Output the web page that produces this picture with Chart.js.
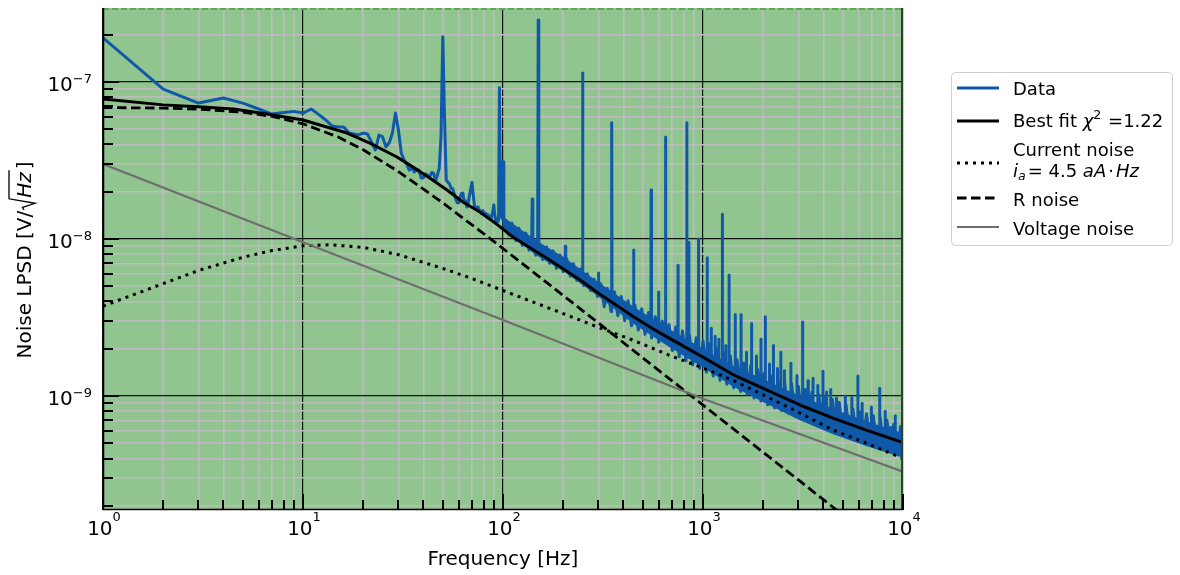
<!DOCTYPE html>
<html>
<head>
<meta charset="utf-8">
<script src="https://cdn.jsdelivr.net/npm/chart.js@4.4.0/dist/chart.umd.min.js"></script>
<style>
  html, body { margin: 0; padding: 0; background: #fff; }
</style>
</head>
<body>
<canvas id="lpsdChart" width="1180" height="575"></canvas>
<script>
// measured spectrum, 1 Hz bins at low frequency (values in nV/sqrt(Hz))
const lowBinsHz = [
  1, 2, 3, 4, 5, 6, 7, 8, 9, 10,
  11, 12, 13, 14, 15, 16, 17, 18, 19, 20,
  21, 22, 23, 24, 25, 26, 27, 28, 29, 30,
  31, 32, 33, 34, 35, 36, 37, 38, 39, 40,
  41, 42, 43, 44, 45, 46, 47, 48, 49, 50,
  51, 52, 53, 54, 55, 56, 57, 58, 59, 60,
  61, 62, 63, 64, 65, 66, 67, 68, 69, 70,
  71, 72, 73, 74, 75, 76, 77, 78, 79, 80,
  81, 82, 83, 84, 85, 86, 87, 88, 89, 90,
  91, 92, 93, 94, 95, 96, 97, 98, 99, 100,
  101, 102
];
const lowBinsNV = [
  191, 90, 73.4, 79, 73.4, 67.3, 62.5, 64, 65, 63.4,
  67.3, 62, 57.3, 52.4, 51.7, 51.7, 47.3, 46.7, 46, 47.3,
  46.7, 41.5, 36.9, 46, 44.7, 38.6, 41, 47.3, 63.5, 49.5,
  35.3, 31.9, 30, 27.5, 28.3, 26.7, 27.5, 27.5, 24.5, 24.5,
  26, 25.5, 25, 26.5, 26.3, 23.5, 25.5, 28.3, 45, 194,
  60, 23.8, 23, 22.5, 21, 21, 19.5, 18, 17, 17,
  18.5, 19.5, 19.6, 17, 17.5, 16, 16.8, 19, 21, 23,
  19, 16.3, 15.8, 15.8, 16, 15.3, 15, 14.5, 15.2, 14.9,
  14.2, 14.6, 13.8, 14.3, 13.5, 14, 13.3, 14.2, 15, 16.5,
  14, 13, 13.5, 12.8, 13.2, 92, 16, 14, 13.5, 31,
  12.5, 11.5
];

// 100 Hz - 1 kHz: noise band + mains harmonics (nV/sqrt(Hz))
const bandLowHz = [
  103, 107, 111, 116, 120, 125, 130, 135, 139, 140,
  141, 146, 149, 150, 151, 152, 158, 165, 171, 178,
  185, 193, 200, 204, 205, 206, 208, 217, 225, 234,
  244, 249, 250, 251, 253, 264, 274, 285, 297, 299,
  300, 301, 308, 321, 333, 347, 349, 350, 351, 361,
  375, 390, 406, 422, 439, 449, 450, 451, 456, 475,
  494, 513, 534, 549, 550, 551, 555, 577, 599, 600,
  601, 625, 649, 650, 651, 676, 703, 731, 749, 750,
  751, 760, 790, 822, 829, 830, 831, 849, 850, 851,
  855, 889, 925, 949, 950, 951, 962
];
const bandLowNV = [
  13.2, 10.6, 12.6, 9.8, 11.7, 9.1, 10.9, 8.5, 9.0, 18,
  8.8, 7.9, 8.6, 248, 8.2, 9.4, 7.4, 8.9, 7.0, 8.4,
  6.5, 7.9, 6.2, 6.5, 9.0, 6.4, 7.5, 5.8, 6.95, 5.45,
  6.45, 5.5, 114, 5.5, 5.05, 6.0, 4.7, 5.55, 4.3, 4.6,
  6.07, 4.6, 5.2, 3.7, 4.85, 3.45, 4.0, 55, 4.0, 4.6,
  3.25, 4.3, 3.02, 4.05, 2.8, 3.2, 8.5, 3.2, 3.8, 2.63,
  3.6, 2.47, 3.4, 2.8, 20.5, 2.8, 2.34, 3.2, 2.6, 4.6,
  2.2, 3.0, 2.45, 44.6, 2.4, 2.85, 1.95, 2.75, 2.2, 6.8,
  2.2, 1.78, 2.6, 1.68, 2.0, 55, 2.0, 2.0, 9.5, 2.0,
  2.45, 1.58, 2.35, 1.85, 10, 1.85, 1.5
];

// 1 kHz - 10 kHz
const bandHighHz = [
  1000, 1040, 1049, 1050, 1051, 1082, 1099, 1100, 1101, 1125,
  1149, 1150, 1151, 1170, 1199, 1200, 1201, 1217, 1249, 1250,
  1251, 1265, 1299, 1300, 1301, 1316, 1349, 1350, 1351, 1369,
  1423, 1449, 1450, 1451, 1480, 1540, 1549, 1550, 1551, 1601,
  1649, 1650, 1651, 1665, 1732, 1749, 1750, 1751, 1801, 1849,
  1850, 1851, 1873, 1948, 1949, 1950, 1951, 2026, 2049, 2050,
  2051, 2107, 2149, 2150, 2151, 2191, 2249, 2250, 2251, 2279,
  2349, 2350, 2351, 2370, 2449, 2450, 2451, 2465, 2549, 2550,
  2551, 2563, 2666, 2749, 2750, 2751, 2772, 2883, 2949, 2950,
  2951, 2999, 3118, 3149, 3150, 3151, 3243, 3349, 3350, 3351,
  3373, 3508, 3549, 3550, 3551, 3648, 3749, 3750, 3751, 3794,
  3946, 3979, 3980, 3981, 4104, 4149, 4150, 4151, 4268, 4349,
  4350, 4351, 4439, 4616, 4649, 4650, 4651, 4801, 4993, 5149,
  5150, 5151, 5193, 5400, 5549, 5550, 5551, 5616, 5841, 5949,
  5950, 5951, 6075, 6249, 6250, 6251, 6318, 6570, 6833, 6949,
  6950, 6951, 7107, 7391, 7649, 7650, 7651, 7687, 7994, 8149,
  8150, 8151, 8314, 8646, 8649, 8650, 8651, 8992, 9149, 9150,
  9151, 9352, 9726, 10000
];
const bandHighNV = [
  2.25, 1.42, 1.75, 7.6, 1.75, 2.15, 1.68, 2.7, 1.68, 1.34,
  1.65, 2.4, 1.65, 2.0, 1.55, 2.3, 1.55, 1.26, 1.55, 14.4,
  1.55, 1.9, 1.45, 2.1, 1.45, 1.19, 1.45, 5.9, 1.45, 1.8,
  1.13, 1.35, 3.3, 1.35, 1.7, 1.07, 1.3, 3.3, 1.3, 1.62,
  1.25, 1.9, 1.25, 1.02, 1.56, 1.2, 2.9, 1.2, 0.97, 1.16,
  1.8, 1.16, 1.48, 0.93, 1.13, 2.3, 1.13, 1.4, 1.1, 3.2,
  1.1, 0.88, 1.07, 1.6, 1.07, 1.34, 1.05, 2.1, 1.05, 0.84,
  1.03, 1.5, 1.03, 1.29, 1.0, 1.9, 1.0, 0.81, 0.98, 1.45,
  0.98, 1.25, 0.78, 0.95, 1.62, 0.95, 1.2, 0.75, 0.9, 1.35,
  0.9, 1.15, 0.715, 0.88, 2.96, 0.88, 1.1, 0.85, 1.25, 0.85,
  0.69, 1.06, 0.83, 1.3, 0.83, 0.665, 0.81, 1.17, 0.81, 1.02,
  0.645, 0.79, 1.44, 0.79, 0.98, 0.77, 1.06, 0.77, 0.62, 0.75,
  1.1, 0.75, 0.95, 0.6, 0.73, 0.97, 0.73, 0.91, 0.58, 0.7,
  1.0, 0.7, 0.88, 0.55, 0.67, 0.98, 0.67, 0.83, 0.53, 0.66,
  1.34, 0.66, 0.79, 0.64, 0.9, 0.64, 0.51, 0.77, 0.495, 0.61,
  0.85, 0.61, 0.75, 0.48, 0.59, 1.12, 0.59, 0.73, 0.465, 0.57,
  0.8, 0.57, 0.70, 0.45, 0.56, 0.63, 0.56, 0.66, 0.54, 0.75,
  0.54, 0.435, 0.64, 0.42
];
if (bandLowHz.length !== bandLowNV.length || bandHighHz.length !== bandHighNV.length) console.warn('band arrays differ');

// the dense bins above 100 Hz merge into a solid band: its upper / lower edge
const envHz = [103, 150, 200, 300, 450, 660, 1000, 1410, 2090, 3050, 4470, 6550, 10000];
const envUpperNV = [13.5, 9.6, 7.7, 5.3, 3.7, 2.72, 2.0, 1.56, 1.25, 1.0, 0.83, 0.69, 0.58];
const envLowerNV = [11.0, 7.75, 6.25, 4.3, 2.88, 2.1, 1.52, 1.15, 0.89, 0.70, 0.57, 0.48, 0.405];

// model curves (nV/sqrt(Hz))
const fitHz = [1, 2, 3, 4.5, 6.6, 10, 16.6, 21.6, 29.5, 35.5, 43, 52.5, 63, 77, 94, 112, 165, 243, 305, 450, 543, 660, 1000, 1410, 2090, 3050, 4470, 6550, 10000];
const fitNV = [78, 71.5, 69.5, 67.3, 62.5, 57.3, 47.3, 40.8, 33.3, 28.7, 24.5, 20.5, 17.2, 14.8, 12.3, 10.3, 7.57, 5.48, 4.45, 3.2, 2.75, 2.38, 1.77, 1.37, 1.09, 0.877, 0.724, 0.607, 0.505];

const currentHz = [1, 2, 3, 5, 7, 10, 13.6, 20, 30, 50, 70, 100, 200, 300, 450, 700, 1000, 1410, 2090, 3050, 4470, 6550, 10000];
const currentNV = [3.74, 5.2, 6.3, 7.65, 8.45, 9.05, 9.2, 8.85, 7.95, 6.5, 5.6, 4.7, 3.35, 2.74, 2.26, 1.79, 1.51, 1.26, 0.99, 0.78, 0.607, 0.502, 0.40];

const rNoiseHz = [1, 2, 3, 5, 7, 10, 15, 20, 30, 50, 70, 100, 200, 300, 500, 700, 1000, 2000, 3000, 5000, 10000];
const rNoiseNV = [68.8, 68.2, 67.2, 64.2, 60.4, 54.2, 44.6, 37.0, 26.9, 17.0, 12.3, 8.7, 4.37, 2.92, 1.75, 1.25, 0.876, 0.438, 0.292, 0.175, 0.0876];

const voltageHz = [1, 10, 100, 1000, 10000];
const voltageNV = [30, 9.55, 3.05, 0.96, 0.33];

// axes
const xRange = [1, 1e4];
const yRange = [1.88e-10, 2.96e-7];
const xDecades = [1, 10, 100, 1000, 10000];
const xDecadeLabels = ['0', '1', '2', '3', '4'];
const yDecades = [1e-10, 1e-9, 1e-8, 1e-7];
const yDecadeLabels = ['\u221210', '\u22129', '\u22128', '\u22127'];

const dataBlue = '#1059a8';
const sans = '"DejaVu Sans", sans-serif';
const font = (size, italic) => (italic ? 'italic ' : '') + size + 'px ' + sans;

function decadeTicks(decades, lo, hi) {
  const list = [];
  decades.forEach(d => {
    if (d >= lo && d <= hi) list.push({ value: d, major: true });
    for (let m = 2; m <= 9; m++) {
      const v = m * d;
      if (v >= lo && v <= hi) list.push({ value: v, major: false });
    }
  });
  return list.sort((a, b) => a.value - b.value);
}
const xTicks = decadeTicks(xDecades, xRange[0], xRange[1]);
const yTicks = decadeTicks(yDecades, yRange[0], yRange[1]);

const toPts = (hz, nv) => hz.map((f, i) => ({ x: f, y: nv[i] * 1e-9 }));
const dataPts = toPts(lowBinsHz, lowBinsNV)
  .concat(toPts(bandLowHz, bandLowNV))
  .concat(toPts(bandHighHz, bandHighNV));

function drawRuns(ctx, parts, x, y) {
  let cx = x;
  parts.forEach(p => {
    ctx.font = p.font;
    ctx.fillText(p.text, cx, y + (p.dy || 0));
    cx += ctx.measureText(p.text).width + (p.gap || 0);
  });
  return cx - x;
}
function runsWidth(ctx, parts) {
  let w = 0;
  parts.forEach(p => { ctx.font = p.font; w += ctx.measureText(p.text).width + (p.gap || 0); });
  return w;
}
function seg(ctx, x1, y1, x2, y2) {
  ctx.beginPath(); ctx.moveTo(x1, y1); ctx.lineTo(x2, y2); ctx.stroke();
}

const lpsdDecor = {
  id: 'lpsdDecor',
  beforeDraw(chart) {
    const { ctx, chartArea: a } = chart;
    ctx.save();
    ctx.fillStyle = '#91c58f';
    ctx.fillRect(a.left, a.top, a.right - a.left, a.bottom - a.top);
    ctx.restore();
  },
  afterDraw(chart) {
    const { ctx, chartArea: a } = chart;
    const sx = chart.scales.x, sy = chart.scales.y;
    ctx.save();

    // frame
    ctx.lineWidth = 2;
    ctx.strokeStyle = '#5ca85b';
    ctx.setLineDash([6, 3]);
    seg(ctx, a.left, a.top + 1, a.right, a.top + 1);
    ctx.setLineDash([]);
    ctx.strokeStyle = '#2c432c';
    seg(ctx, a.right - 1, a.top, a.right - 1, a.bottom);
    ctx.strokeStyle = '#000';
    ctx.lineWidth = 1.5;
    seg(ctx, a.left + 0.5, a.top, a.left + 0.5, a.bottom);
    seg(ctx, a.left, a.bottom - 0.5, a.right, a.bottom - 0.5);

    // inward ticks
    ctx.lineWidth = 2;
    xTicks.forEach(t => {
      const px = Math.round(sx.getPixelForValue(t.value));
      seg(ctx, px, a.bottom, px, a.bottom - (t.major ? 16 : 10));
    });
    yTicks.forEach(t => {
      const py = Math.round(sy.getPixelForValue(t.value));
      seg(ctx, a.left, py, a.left + (t.major ? 16 : 10), py);
    });

    // tick labels
    ctx.fillStyle = '#000';
    ctx.textBaseline = 'alphabetic';
    ctx.textAlign = 'left';
    xDecades.forEach((d, i) => {
      const parts = [{ text: '10', font: font(20) }, { text: xDecadeLabels[i], font: font(13), dy: -14 }];
      const w = runsWidth(ctx, parts);
      drawRuns(ctx, parts, sx.getPixelForValue(d) - w / 2 + 1, a.bottom + 25);
    });
    yDecades.forEach((d, i) => {
      if (d < yRange[0] || d > yRange[1]) return;
      const parts = [{ text: '10', font: font(20) }, { text: yDecadeLabels[i], font: font(13), dy: -7.5 }];
      const w = runsWidth(ctx, parts);
      drawRuns(ctx, parts, a.left - 11 - w, sy.getPixelForValue(d) + 8.5);
    });

    // axis titles
    ctx.font = font(20);
    ctx.textAlign = 'center';
    ctx.fillText('Frequency [Hz]', (a.left + a.right) / 2, 565);
    ctx.textAlign = 'left';

    ctx.save();
    ctx.translate(31, 260);
    ctx.rotate(-Math.PI / 2);
    const pre = 'Noise LPSD [V/';
    ctx.font = font(20);
    const wPre = ctx.measureText(pre).width;
    ctx.font = font(20, true);
    const wHz = ctx.measureText('Hz').width;
    ctx.font = font(20);
    const wEnd = ctx.measureText(']').width;
    const total = wPre + 14 + wHz + 2 + wEnd;
    let u = -total / 2;
    ctx.fillText(pre, u, 0);
    u += wPre;
    ctx.lineWidth = 1.3;
    ctx.beginPath();
    ctx.moveTo(u + 1, -7); ctx.lineTo(u + 3.5, -8.5); ctx.lineTo(u + 7.5, 4);
    ctx.lineTo(u + 12, -22); ctx.lineTo(u + 14 + wHz + 1, -22);
    ctx.stroke();
    ctx.font = font(20, true);
    ctx.fillText('Hz', u + 13, 0);
    ctx.font = font(20);
    ctx.fillText(']', u + 14 + wHz + 2, 0);
    ctx.restore();

    // legend
    const bx = 951.5, by = 72.5, bw = 221, bh = 173, r = 4;
    ctx.beginPath();
    ctx.moveTo(bx + r, by); ctx.lineTo(bx + bw - r, by); ctx.quadraticCurveTo(bx + bw, by, bx + bw, by + r);
    ctx.lineTo(bx + bw, by + bh - r); ctx.quadraticCurveTo(bx + bw, by + bh, bx + bw - r, by + bh);
    ctx.lineTo(bx + r, by + bh); ctx.quadraticCurveTo(bx, by + bh, bx, by + bh - r);
    ctx.lineTo(bx, by + r); ctx.quadraticCurveTo(bx, by, bx + r, by);
    ctx.closePath();
    ctx.fillStyle = 'rgba(255,255,255,0.85)';
    ctx.fill();
    ctx.strokeStyle = '#cfcfcf';
    ctx.lineWidth = 1;
    ctx.stroke();

    const sets = chart.data.datasets;
    const sample = (ds, y) => {
      ctx.save();
      ctx.strokeStyle = ds.borderColor;
      ctx.lineWidth = ds.borderWidth;
      ctx.setLineDash(ds.borderDash || []);
      seg(ctx, 957, y, 999, y);
      ctx.restore();
    };
    ctx.fillStyle = '#000';
    const tx = 1013;
    sample(sets[0], 88);
    drawRuns(ctx, [{ text: 'Data', font: font(18) }], tx, 95);
    sample(sets[1], 121);
    drawRuns(ctx, [
      { text: 'Best fit ', font: font(18) },
      { text: '\u03c7', font: font(18, true) },
      { text: '2', font: font(12.6), dy: -8, gap: 1 },
      { text: ' =1.22', font: font(18) }
    ], tx, 127);
    sample(sets[2], 163);
    drawRuns(ctx, [{ text: 'Current noise', font: font(18) }], tx, 156);
    drawRuns(ctx, [
      { text: 'i', font: font(18, true) },
      { text: 'a', font: font(12.6, true), dy: 3, gap: 2 },
      { text: '= 4.5 ', font: font(18) },
      { text: 'aA', font: font(18, true), gap: 2 },
      { text: '\u00b7', font: font(18), gap: 2 },
      { text: 'Hz', font: font(18, true) }
    ], tx, 177);
    sample(sets[3], 198);
    drawRuns(ctx, [{ text: 'R noise', font: font(18) }], tx, 206);
    sample(sets[4], 227);
    drawRuns(ctx, [{ text: 'Voltage noise', font: font(18) }], tx, 235);

    ctx.restore();
  }
};

const gridStyle = {
  drawTicks: false,
  color: c => (c.tick && c.tick.major ? '#111111' : '#bdbdbd'),
  lineWidth: c => (c.tick && c.tick.major ? 1.2 : 1.6)
};

const ctx = document.getElementById('lpsdChart').getContext('2d');
Chart.defaults.font.family = sans;

const chart = new Chart(ctx, {
  type: 'line',
  data: {
    datasets: [
      { label: 'Data', data: dataPts, borderColor: dataBlue, borderWidth: 3, order: 5 },
      { label: 'Best fit', data: toPts(fitHz, fitNV), borderColor: '#000000', borderWidth: 3, order: 4 },
      { label: 'Current noise', data: toPts(currentHz, currentNV), borderColor: '#000000', borderWidth: 3, borderDash: [3, 5], order: 3 },
      { label: 'R noise', data: toPts(rNoiseHz, rNoiseNV), borderColor: '#000000', borderWidth: 2.8, borderDash: [9.5, 4.5], order: 2 },
      { label: 'Voltage noise', data: toPts(voltageHz, voltageNV), borderColor: '#6e6e6e', borderWidth: 2.2, order: 1 },
      { label: 'band top', data: toPts(envHz, envUpperNV), borderWidth: 0, borderColor: 'rgba(0,0,0,0)', backgroundColor: dataBlue, fill: '+1', order: 7 },
      { label: 'band bottom', data: toPts(envHz, envLowerNV), borderWidth: 0, borderColor: 'rgba(0,0,0,0)', fill: false, order: 8 }
    ]
  },
  options: {
    responsive: false,
    animation: false,
    devicePixelRatio: 1,
    events: [],
    layout: { padding: { left: 103, right: 277, top: 8, bottom: 65 } },
    elements: {
      point: { radius: 0, hoverRadius: 0 },
      line: { tension: 0, fill: false, borderJoinStyle: 'round', borderCapStyle: 'butt' }
    },
    plugins: { legend: { display: false }, tooltip: { enabled: false } },
    scales: {
      x: {
        type: 'logarithmic',
        min: xRange[0],
        max: xRange[1],
        afterBuildTicks: s => { s.ticks = xTicks.map(t => ({ value: t.value, major: t.major })); },
        afterFit: s => { s.height = 0; },
        ticks: { display: false, autoSkip: false },
        border: { display: false },
        grid: gridStyle
      },
      y: {
        type: 'logarithmic',
        min: yRange[0],
        max: yRange[1],
        afterBuildTicks: s => { s.ticks = yTicks.map(t => ({ value: t.value, major: t.major })); },
        afterFit: s => { s.width = 0; },
        ticks: { display: false, autoSkip: false },
        border: { display: false },
        grid: gridStyle
      }
    }
  },
  plugins: [lpsdDecor]
});
</script>
</body>
</html>
